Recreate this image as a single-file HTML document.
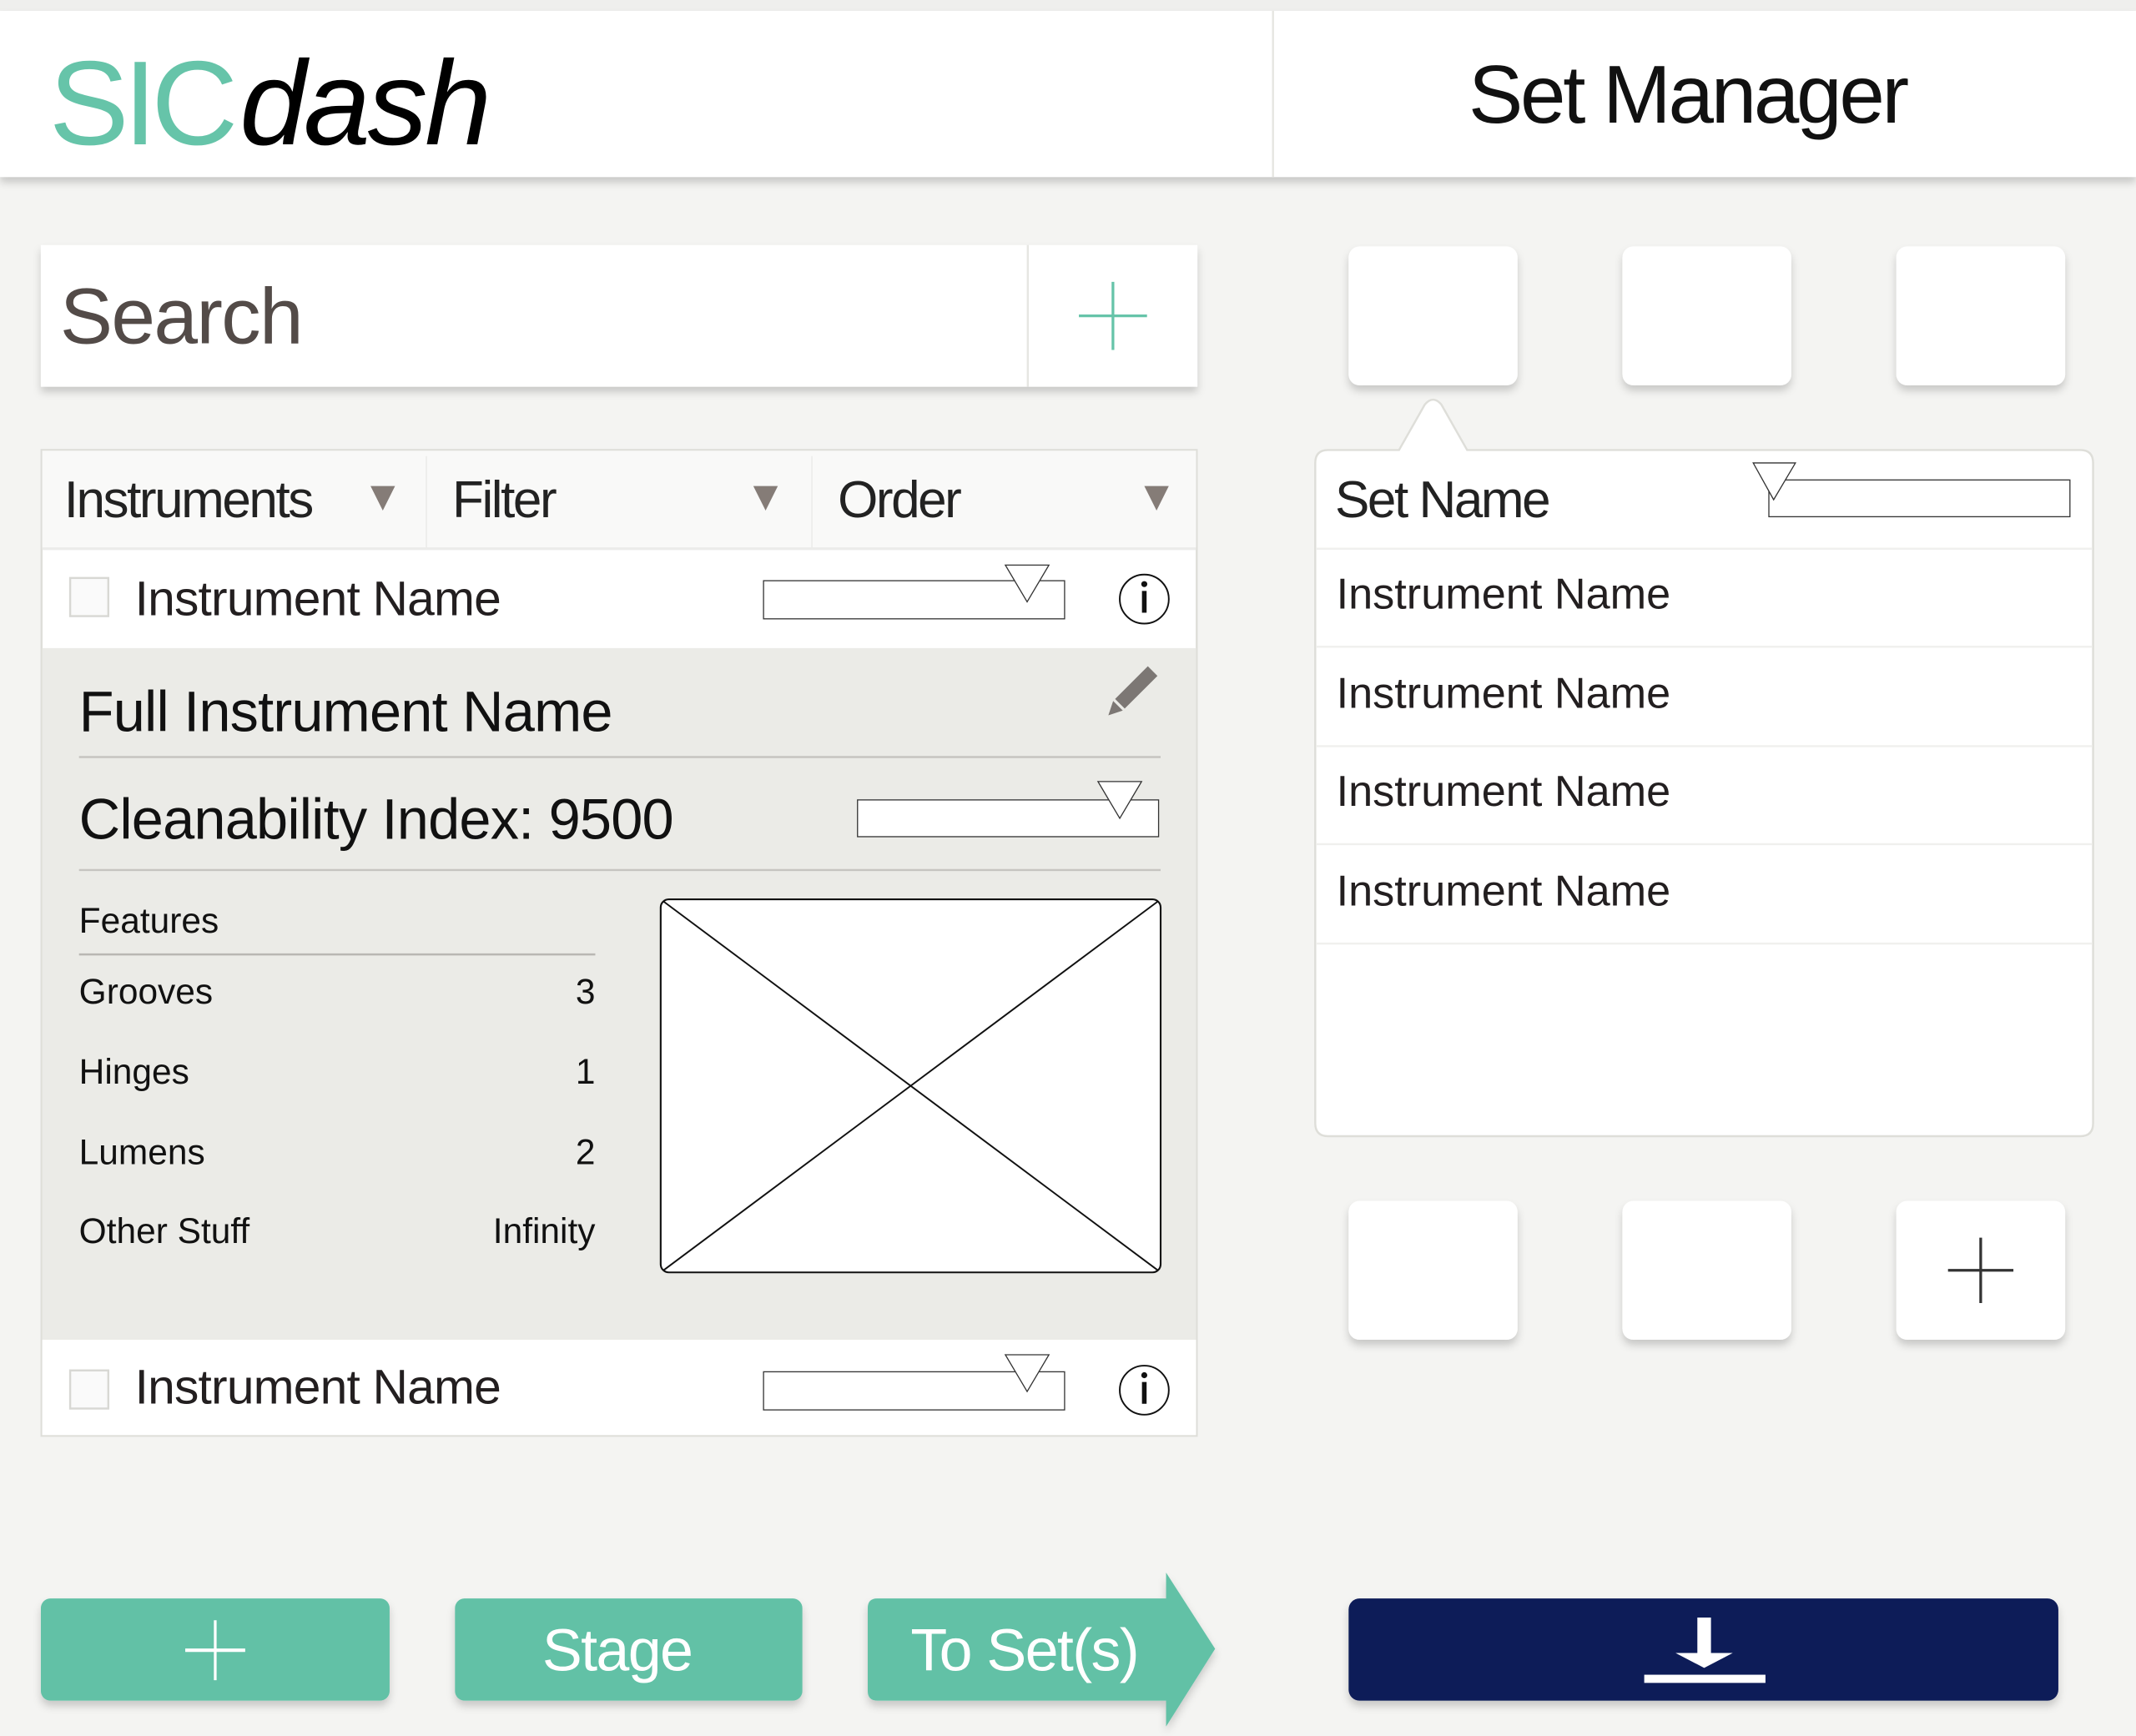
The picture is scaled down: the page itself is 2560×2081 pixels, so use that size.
<!DOCTYPE html>
<html><head><meta charset="utf-8"><style>
html,body{margin:0;padding:0;background:#f4f4f2;}
svg{display:block;}
text{font-family:"Liberation Sans",sans-serif;}
</style></head><body>
<svg width="2560" height="2081" viewBox="0 0 1568 1275" preserveAspectRatio="none" xmlns="http://www.w3.org/2000/svg">
<defs>
<filter id="sh" x="-10%" y="-10%" width="120%" height="140%"><feDropShadow dx="0" dy="4" stdDeviation="3" flood-color="#000" flood-opacity="0.18"/></filter>
</defs>
<rect width="1568" height="1275" fill="#f4f4f2"/>
<rect y="0" width="1568" height="8" fill="#efefed"/>
<!-- header -->
<rect y="8" width="1568" height="122" fill="#fff" filter="url(#sh)"/>
<line x1="934.5" y1="8" x2="934.5" y2="130" stroke="#e6e6e2" stroke-width="1.5"/>
<text x="36" y="106" font-size="88" fill="#66c4a9" letter-spacing="-4" font-weight="300">SIC</text>
<text x="176" y="106" font-size="88" font-style="italic" fill="#000" letter-spacing="-2">dash</text>
<text x="1078" y="90" font-size="60" fill="#111" letter-spacing="-2">Set Manager</text>

<!-- search -->
<rect x="30" y="180" width="849" height="104" fill="#fff" filter="url(#sh)"/>
<line x1="754.5" y1="180" x2="754.5" y2="284" stroke="#e6e6e2" stroke-width="1.5"/>
<text x="44" y="252" font-size="58" fill="#534b48" letter-spacing="-1">Search</text>
<line x1="792" y1="232" x2="842" y2="232" stroke="#66c4a9" stroke-width="2"/>
<line x1="817" y1="207" x2="817" y2="257" stroke="#66c4a9" stroke-width="2"/>

<!-- list panel -->
<rect x="30.5" y="330.5" width="848" height="724" fill="#fff" stroke="#deded9" stroke-width="1.5"/>
<rect x="31" y="331" width="847" height="72" fill="#f9f9f8"/>
<line x1="313" y1="335" x2="313" y2="403" stroke="#ececea"/>
<line x1="596" y1="335" x2="596" y2="403" stroke="#ececea"/>
<line x1="31" y1="403" x2="878" y2="403" stroke="#ececea" stroke-width="2"/>
<text x="47" y="380" font-size="38" fill="#222" letter-spacing="-1.5">Instruments</text>
<text x="332" y="380" font-size="38" fill="#222" letter-spacing="-1.5">Filter</text>
<text x="615" y="380" font-size="38" fill="#222" letter-spacing="-1.5">Order</text>
<polygon points="272,357 290,357 281,375" fill="#857c77"/>
<polygon points="553,357 571,357 562,375" fill="#857c77"/>
<polygon points="840,357 858,357 849,375" fill="#857c77"/>

<!-- row 1 -->
<rect x="51.5" y="424.5" width="28" height="28" fill="#fafafa" stroke="#d8d8d4" stroke-width="1.5"/>
<text x="99" y="452" font-size="36" fill="#231f20" letter-spacing="-0.5">Instrument Name</text>
<rect x="560.5" y="426.5" width="221" height="28" fill="#fff" stroke="#333" stroke-width="0.8"/>
<polygon points="738,415 770,415 754,442" fill="#fff" stroke="#333" stroke-width="0.8"/>
<circle cx="840" cy="440" r="18" fill="#fff" stroke="#111" stroke-width="1.2"/>
<circle cx="840" cy="429" r="2.2" fill="#111"/>
<rect x="838.3" y="434" width="3.4" height="16" fill="#111"/>

<!-- expanded -->
<rect x="31" y="476" width="847" height="508" fill="#ebebe7"/>
<text x="58" y="537" font-size="42" fill="#111" letter-spacing="-0.5">Full Instrument Name</text>
<g transform="translate(832,507) rotate(45)">
<rect x="-5" y="-20" width="10" height="34" fill="#7c7774"/>
<polygon points="-5,16 5,16 0,26" fill="#7c7774"/>
</g>
<line x1="58" y1="556" x2="852" y2="556" stroke="#c6c4c0" stroke-width="1.5"/>
<text x="58" y="616" font-size="42" fill="#111" letter-spacing="-0.5">Cleanability Index: 9500</text>
<rect x="629.5" y="587.5" width="221" height="27" fill="#fff" stroke="#333" stroke-width="0.8"/>
<polygon points="806,574 838,574 822,601" fill="#fff" stroke="#333" stroke-width="0.8"/>
<line x1="58" y1="639" x2="852" y2="639" stroke="#c6c4c0" stroke-width="1.5"/>
<text x="58" y="685" font-size="26" fill="#111">Features</text>
<line x1="58" y1="701" x2="437" y2="701" stroke="#b9b7b3" stroke-width="1.5"/>
<g font-size="26" fill="#111">
<text x="58" y="737">Grooves</text><text x="437" y="737" text-anchor="end">3</text>
<text x="58" y="796">Hinges</text><text x="437" y="796" text-anchor="end">1</text>
<text x="58" y="855">Lumens</text><text x="437" y="855" text-anchor="end">2</text>
<text x="58" y="913">Other Stuff</text><text x="437" y="913" text-anchor="end">Infinity</text>
</g>
<rect x="485" y="660.5" width="367" height="274" rx="6" fill="#fff" stroke="#111" stroke-width="1.3"/>
<line x1="487" y1="662" x2="850" y2="933" stroke="#111" stroke-width="1.2"/>
<line x1="850" y1="662" x2="487" y2="933" stroke="#111" stroke-width="1.2"/>

<!-- last row -->
<rect x="31" y="984" width="847" height="70" fill="#fff"/>
<rect x="51.5" y="1006.5" width="28" height="28" fill="#fafafa" stroke="#d8d8d4" stroke-width="1.5"/>
<text x="99" y="1031" font-size="36" fill="#231f20" letter-spacing="-0.5">Instrument Name</text>
<rect x="560.5" y="1007.5" width="221" height="28" fill="#fff" stroke="#333" stroke-width="0.8"/>
<polygon points="738,995 770,995 754,1022" fill="#fff" stroke="#333" stroke-width="0.8"/>
<circle cx="840" cy="1021" r="18" fill="#fff" stroke="#111" stroke-width="1.2"/>
<circle cx="840" cy="1010" r="2.2" fill="#111"/>
<rect x="838.3" y="1015" width="3.4" height="16" fill="#111"/>

<!-- right tiles top -->
<g fill="#fff" filter="url(#sh)">
<rect x="990" y="181" width="124" height="102" rx="8"/>
<rect x="1191" y="181" width="124" height="102" rx="8"/>
<rect x="1392" y="181" width="124" height="102" rx="8"/>
<rect x="990" y="882" width="124" height="102" rx="8"/>
<rect x="1191" y="882" width="124" height="102" rx="8"/>
<rect x="1392" y="882" width="124" height="102" rx="8"/>
</g>
<line x1="1430" y1="933" x2="1478" y2="933" stroke="#333" stroke-width="2"/>
<line x1="1454" y1="909" x2="1454" y2="957" stroke="#333" stroke-width="2"/>

<!-- popover -->
<path d="M975,330.5 L1027,330.5 L1046,297 Q1052,290 1058,297 L1077,330.5 L1527,330.5 Q1536.5,330.5 1536.5,340 L1536.5,825 Q1536.5,834.5 1527,834.5 L975,834.5 Q965.5,834.5 965.5,825 L965.5,340 Q965.5,330.5 975,330.5 Z" fill="#fff" stroke="#deded9" stroke-width="1.5"/>
<text x="980" y="380" font-size="38" fill="#222" letter-spacing="-1.5">Set Name</text>
<rect x="1298.5" y="352.5" width="221" height="27" fill="#fff" stroke="#333" stroke-width="0.8"/>
<polygon points="1287,340 1318,340 1302,367" fill="#fff" stroke="#333" stroke-width="0.8"/>
<g stroke="#f0f0ee" stroke-width="1.5">
<line x1="966" y1="403" x2="1536" y2="403"/>
<line x1="966" y1="475" x2="1536" y2="475"/>
<line x1="966" y1="548" x2="1536" y2="548"/>
<line x1="966" y1="620" x2="1536" y2="620"/>
<line x1="966" y1="693" x2="1536" y2="693"/>
</g>
<g font-size="32" fill="#231f20">
<text x="981" y="447">Instrument Name</text>
<text x="981" y="520">Instrument Name</text>
<text x="981" y="592">Instrument Name</text>
<text x="981" y="665">Instrument Name</text>
</g>

<!-- bottom buttons -->
<g filter="url(#sh)">
<rect x="30" y="1174" width="256" height="75" rx="7" fill="#62c1a6"/>
<rect x="334" y="1174" width="255" height="75" rx="7" fill="#62c1a6"/>
<path d="M644,1174 L856,1174 L856,1155 L892,1211 L856,1268 L856,1249 L644,1249 Q637,1249 637,1242 L637,1181 Q637,1174 644,1174 Z" fill="#62c1a6"/>
<rect x="990" y="1174" width="521" height="75" rx="8" fill="#0f1a58"/>
</g>
<line x1="136" y1="1212" x2="180" y2="1212" stroke="#fff" stroke-width="2.5"/>
<line x1="158" y1="1190" x2="158" y2="1234" stroke="#fff" stroke-width="2"/>
<text x="453" y="1227" font-size="44" fill="#fff" text-anchor="middle" letter-spacing="-1">Stage</text>
<text x="752" y="1227" font-size="44" fill="#fff" text-anchor="middle" letter-spacing="-1">To Set(s)</text>
<rect x="1246" y="1188" width="10" height="28" fill="#fff"/>
<polygon points="1230,1214 1272,1214 1251,1225" fill="#fff"/>
<rect x="1207" y="1230" width="89" height="6" fill="#fff"/>
</svg>
</body></html>
